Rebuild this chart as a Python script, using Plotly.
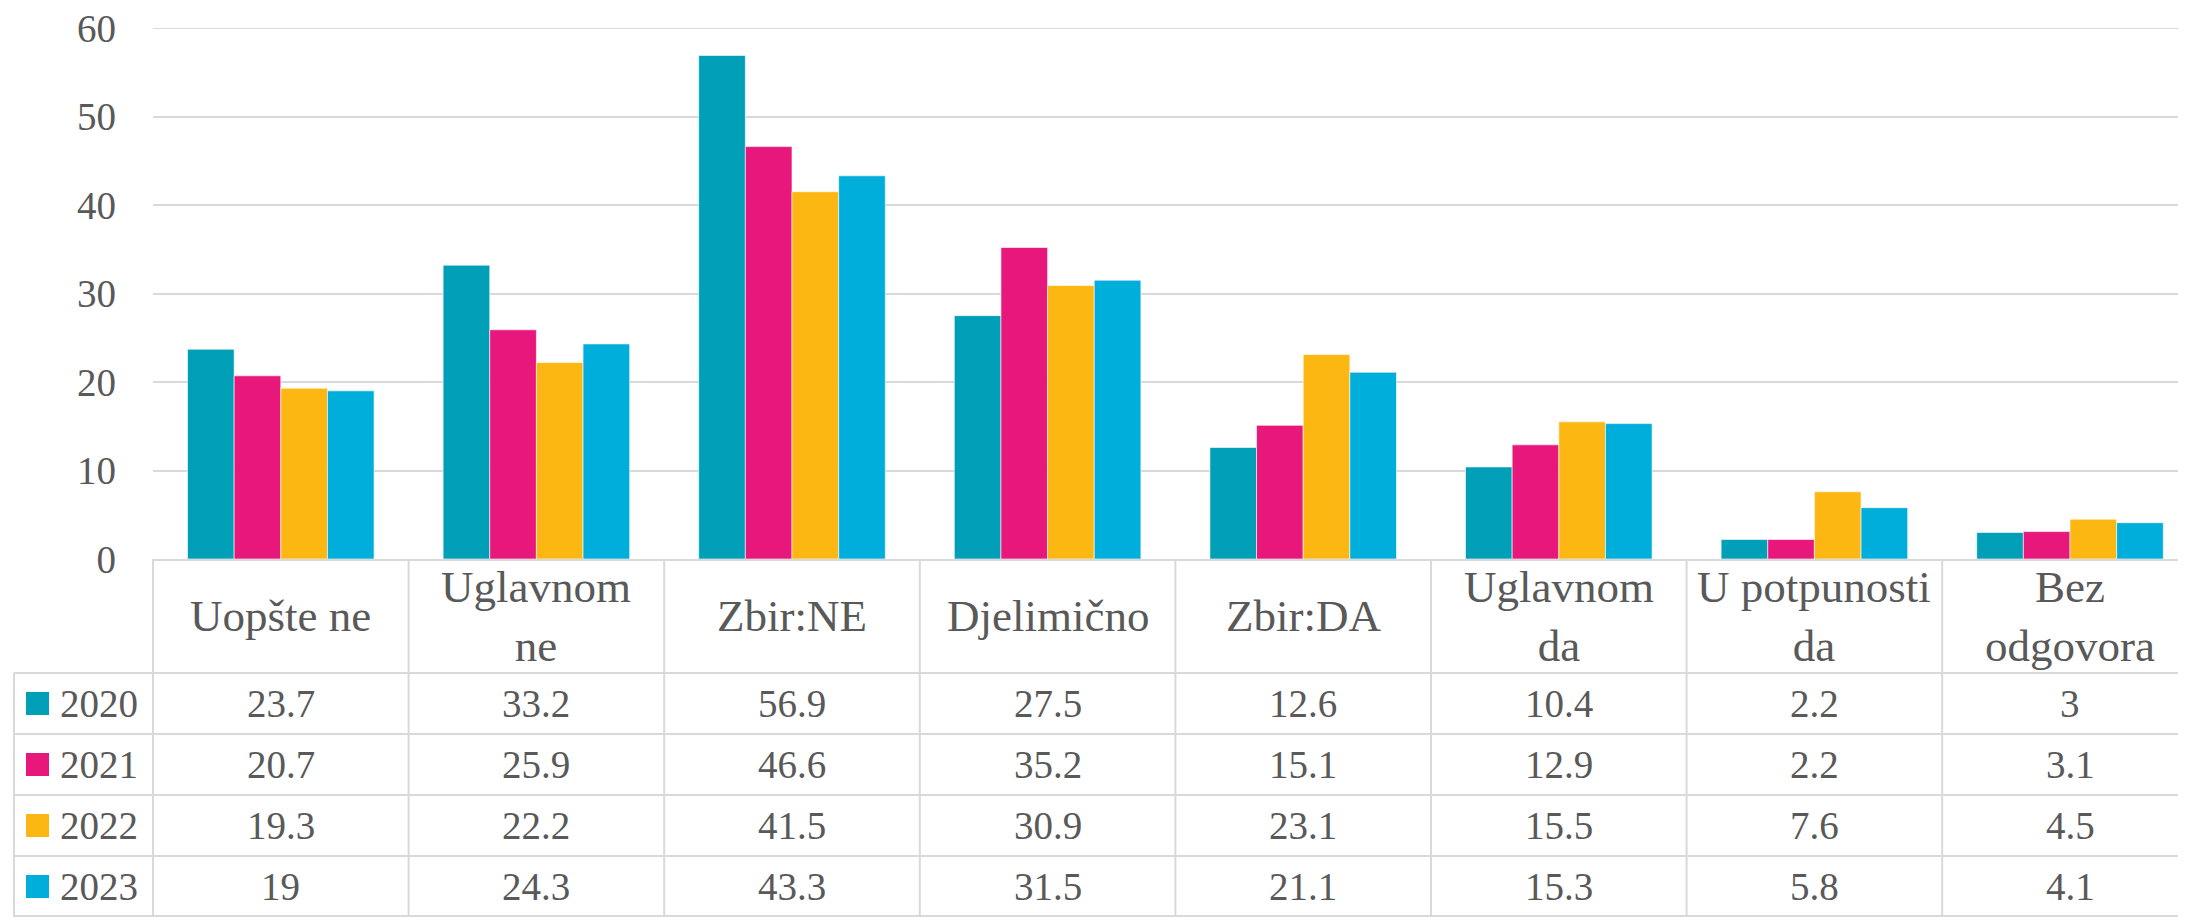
import plotly.graph_objects as go

CATEGORIES = ["Uopšte ne", "Uglavnom ne", "Zbir:NE", "Djelimično", "Zbir:DA",
              "Uglavnom da", "U potpunosti da", "Bez odgovora"]
HEADER_LABELS = ["Uopšte ne", "Uglavnom<br>ne", "Zbir:NE", "Djelimično", "Zbir:DA",
                 "Uglavnom<br>da", "U potpunosti<br>da", "Bez<br>odgovora"]
YEARS = ["2020", "2021", "2022", "2023"]
V2020 = [23.7, 33.2, 56.9, 27.5, 12.6, 10.4, 2.2, 3]
V2021 = [20.7, 25.9, 46.6, 35.2, 15.1, 12.9, 2.2, 3.1]
V2022 = [19.3, 22.2, 41.5, 30.9, 23.1, 15.5, 7.6, 4.5]
V2023 = [19, 24.3, 43.3, 31.5, 21.1, 15.3, 5.8, 4.1]
SERIES = [V2020, V2021, V2022, V2023]
COLORS = ["#009FB8", "#E8177B", "#FDB713", "#00AEDB"]
Y_TICKS = [0, 10, 20, 30, 40, 50, 60]

# geometry (pixels, figure coordinates; page body adds an 8px offset)
W, H = 2186, 917
OFF = 8
PLOT_L = 153 - OFF
COLW = 255.6
Y_TOP, Y_ZERO = 28 - OFF, 559 - OFF
HEAD_B = 673 - OFF
ROW_H = 61
LEG_L = 14 - OFF
FONT = "Liberation Serif"
TXT = "#595959"
GRID = "#D9D9D9"


def py(p):
    return 1 - p / H


def px(p):
    return p / W


fig = go.Figure()
for name, vals, col in zip(YEARS, SERIES, COLORS):
    fig.add_trace(go.Bar(x=list(range(len(CATEGORIES))), y=vals, name=name,
                         marker=dict(color=col, line=dict(color="rgba(255,255,255,0.6)", width=1)),
                         hovertext=CATEGORIES))

shapes = []
annotations = []
line = dict(color=GRID, width=2)
# horizontal table lines
for k in range(5):
    yy = min(HEAD_B + k * ROW_H, H - OFF - 1)
    shapes.append(dict(type="line", xref="paper", yref="paper", x0=px(LEG_L), x1=1,
                       y0=py(yy), y1=py(yy), line=line, layer="above"))
# vertical table lines
shapes.append(dict(type="line", xref="paper", yref="paper", x0=px(LEG_L), x1=px(LEG_L),
                   y0=py(HEAD_B), y1=0, line=line))
shapes.append(dict(type="line", xref="paper", yref="paper", x0=px(PLOT_L), x1=px(PLOT_L),
                   y0=py(Y_ZERO), y1=0, line=line))
for i in range(len(CATEGORIES) - 1):
    shapes.append(dict(type="line", xref="x", yref="paper", x0=i + 0.5, x1=i + 0.5,
                       y0=py(Y_ZERO), y1=0, line=line))

# header labels
for i, lab in enumerate(HEADER_LABELS):
    annotations.append(dict(x=i, xref="x", y=py((Y_ZERO + HEAD_B) / 2), yref="paper",
                            text=lab, showarrow=False, xanchor="center", yanchor="middle",
                            font=dict(family=FONT, size=45, color=TXT)))
# rows
for r, (name, vals, col) in enumerate(zip(YEARS, SERIES, COLORS)):
    cy = HEAD_B + (r + 0.5) * ROW_H
    shapes.append(dict(type="rect", xref="paper", yref="paper",
                       x0=px(26 - OFF), x1=px(49 - OFF), y0=py(cy - 11.5), y1=py(cy + 11.5),
                       fillcolor=col, line=dict(width=0)))
    annotations.append(dict(x=px(58 - OFF), xref="paper", y=py(cy), yref="paper", text=name,
                            showarrow=False, xanchor="left", yanchor="middle",
                            font=dict(family=FONT, size=39, color=TXT)))
    for i, v in enumerate(vals):
        annotations.append(dict(x=i, xref="x", y=py(cy), yref="paper", text=f"{v:g}",
                                showarrow=False, xanchor="center", yanchor="middle",
                                font=dict(family=FONT, size=39, color=TXT)))

fig.update_layout(
    width=W, height=H,
    margin=dict(l=0, r=0, t=0, b=0, pad=0, autoexpand=False),
    paper_bgcolor="white", plot_bgcolor="white",
    barmode="group", bargap=0.27, bargroupgap=0,
    showlegend=False,
    shapes=shapes, annotations=annotations,
    xaxis=dict(domain=[px(PLOT_L), 1], range=[-0.5, -0.5 + (W - PLOT_L) / COLW],
               showticklabels=False, showgrid=False, zeroline=False, automargin=False,
               showline=True, linecolor=GRID, linewidth=2, ticks=""),
    yaxis=dict(domain=[py(Y_ZERO), py(Y_TOP)], range=[0, 60], tickvals=Y_TICKS,
               showgrid=True, gridcolor=GRID, gridwidth=2, zeroline=False, automargin=False,
               ticks="", ticklabelstandoff=36, ticklabeloverflow="allow",
               tickfont=dict(family=FONT, size=39, color=TXT)),
)
# draw the top gridline explicitly in case the edge gridline is suppressed
fig.add_hline(y=Y_TICKS[-1], line=dict(color=GRID, width=2), layer="below")

fig.write_html("out.html")
